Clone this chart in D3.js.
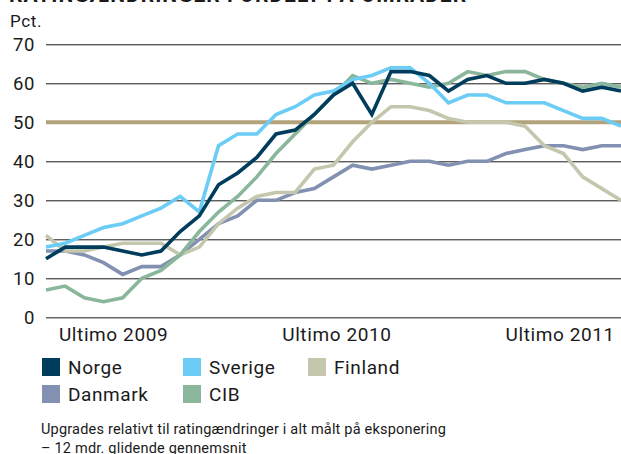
<!DOCTYPE html>
<html><head><meta charset="utf-8">
<script src="https://cdn.jsdelivr.net/npm/d3@7"></script>
<style>
html,body{margin:0;padding:0;background:#fff;}
svg{display:block;}
text{font-family:Roboto, "DejaVu Sans", sans-serif;fill:#1a1a1a;}
</style></head>
<body>
<svg id="chart" width="621" height="454"></svg>
<script>
const title = "RATINGÆNDRINGER FORDELT PÅ OMRÅDER";
const unitLabel = "Pct.";
const yTicks = [0, 10, 20, 30, 40, 50, 60, 70];
const xTickLabels = ["Ultimo 2009", "Ultimo 2010", "Ultimo 2011"];
const xTickIndex = [3.5, 15.15, 26.8];
const refValue = 50;
const seriesNames = ["Norge", "Sverige", "Finland", "Danmark", "CIB"];
const norge   = [15,18,18,18,17,16,17,22,26,34,37,41,47,48,52,57,60,52,63,63,62,58,61,62,60,60,61,60,58,59,58];
const sverige = [18,19,21,23,24,26,28,31,27,44,47,47,52,54,57,58,61,62,64,64,60,55,57,57,55,55,55,53,51,51,49];
const finland = [21,17,17,18,19,19,19,16,18,24,28,31,32,32,38,39,45,50,54,54,53,51,50,50,50,49,44,42,36,33,30];
const danmark = [17,17,16,14,11,13,13,16,20,24,26,30,30,32,33,36,39,38,39,40,40,39,40,40,42,43,44,44,43,44,44];
const cib     = [7,8,5,4,5,10,12,16,22,27,31,36,42,47,52,57,62,60,61,60,59,60,63,62,63,63,61,60,59,60,59];
const colors = {Norge:"#003d5c", Sverige:"#6bcdf5", Finland:"#c4c7ad", Danmark:"#8291b1", CIB:"#8ab79b"};
const refColor = "#b3a37c";
const footnote = ["Upgrades relativt til ratingændringer i alt målt på eksponering", "– 12 mdr. glidende gennemsnit"];

const data = {Norge:norge, Sverige:sverige, Finland:finland, Danmark:danmark, CIB:cib};
const svg = d3.select("#chart");
const m = {left:46, right:621, top:44.3, bottom:317.3};
const n = norge.length;
const x = d3.scaleLinear().domain([0, n-1]).range([m.left, m.right]);
const y = d3.scaleLinear().domain([0, 70]).range([m.bottom, m.top]);
const ls = "0.6px";

// title (cut off at top)
svg.append("text").attr("x", 9).attr("y", 2).attr("font-size", 21).attr("font-weight", "bold")
  .style("letter-spacing","1px").text(title);
svg.append("text").attr("x", 10).attr("y", 27).attr("font-size", 17).style("letter-spacing", ls).text(unitLabel);

// grid
const yAxis = d3.axisLeft(y).tickValues(yTicks).tickSize(-(m.right-m.left)).tickPadding(11);
const gy = svg.append("g").attr("transform", `translate(${m.left},0)`).call(yAxis);
gy.select(".domain").remove();
gy.selectAll(".tick line").attr("stroke", d => d===0 ? "#666" : "#1a1a1a").attr("stroke-width", d => d===0 ? 1.6 : 1);
gy.selectAll(".tick text").attr("font-size", 18.5).attr("font-family", "Roboto, sans-serif").attr("fill", "#1a1a1a").style("letter-spacing", ls);

// x labels
const xAxis = d3.axisBottom(x).tickValues(xTickIndex).tickSize(0).tickPadding(10)
  .tickFormat((d,i) => xTickLabels[i]);
const gx = svg.append("g").attr("transform", `translate(0,${m.bottom})`).call(xAxis);
gx.select(".domain").remove();
gx.selectAll(".tick text").attr("font-size", 19).attr("font-family", "Roboto, sans-serif").attr("fill", "#1a1a1a").style("letter-spacing", ls);

// reference line
svg.append("line").attr("x1", m.left).attr("x2", m.right).attr("y1", y(refValue)).attr("y2", y(refValue))
  .attr("stroke", refColor).attr("stroke-width", 4);

const line = d3.line().x((d,i) => x(i)).y(d => y(d));
const drawOrder = ["Danmark", "Finland", "CIB", "Sverige", "Norge"];
drawOrder.forEach(name => {
  svg.append("path").datum(data[name]).attr("d", line).attr("fill", "none")
    .attr("stroke", colors[name]).attr("stroke-width", 3.6).attr("stroke-linejoin", "miter");
});

// legend
const legendPos = [[42,358],[183,358],[308,358],[42,385],[183,385]];
seriesNames.forEach((name, i) => {
  const [lx, ly] = legendPos[i];
  svg.append("rect").attr("x", lx).attr("y", ly).attr("width", 18).attr("height", 18).attr("fill", colors[name]);
  svg.append("text").attr("x", lx+26).attr("y", ly+15.5).attr("font-size", 19).style("letter-spacing", ls).text(name);
});

// footnote
footnote.forEach((t, i) => {
  svg.append("text").attr("x", 41).attr("y", 434 + i*18.5).attr("font-size", 14.5).style("letter-spacing", "0.2px").text(t);
});
</script>
</body></html>
